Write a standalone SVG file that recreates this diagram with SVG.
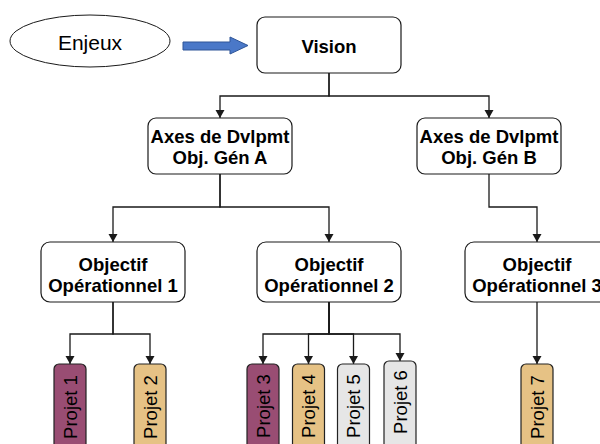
<svg xmlns="http://www.w3.org/2000/svg" width="600" height="444" viewBox="0 0 600 444">
<defs>
<style>
.box{fill:#ffffff;stroke:#1a1a1a;stroke-width:1.2}
.t{font-family:"Liberation Sans",Arial,sans-serif;font-size:18.5px;font-weight:bold;fill:#000;text-anchor:middle}
.p{font-family:"Liberation Sans",Arial,sans-serif;font-size:18.5px;fill:#000;text-anchor:middle}
.pb{stroke:#222;stroke-width:1.2}
.c{fill:none;stroke:#1a1a1a;stroke-width:1.3;marker-end:url(#ah)}
</style>
<marker id="ah" markerUnits="userSpaceOnUse" markerWidth="10" markerHeight="10" refX="8" refY="4.5" orient="auto">
<path d="M0,0 L8,4.5 L0,9 z" fill="#1a1a1a"/>
</marker>
</defs>
<rect width="600" height="444" fill="#ffffff"/>

<g id="connectors">
<path class="c" d="M329,73 V96 H220 V118"/>
<path class="c" d="M329,73 V96 H489 V118"/>
<path class="c" d="M220,174 V207 H113 V242"/>
<path class="c" d="M220,174 V207 H329 V242"/>
<path class="c" d="M489,174 V207 H537 V242"/>
<path class="c" d="M113,302 V334 H70 V364"/>
<path class="c" d="M113,302 V334 H150 V364"/>
<path class="c" d="M329,302 V334 H263 V364"/>
<path class="c" d="M329,302 V334 H308.5 V364"/>
<path class="c" d="M329,302 V334 H353.5 V364"/>
<path class="c" d="M329,302 V334 H400 V361"/>
<path class="c" d="M537,302 V364"/>
<path d="M183,42 H230 V37 L248,45.5 L230,54 V50 H183 Z" fill="#4a78c8" stroke="#2f5597" stroke-width="1"/>
</g>

<g id="enjeux">
<ellipse cx="90" cy="41" rx="80" ry="26" fill="#ffffff" stroke="#1a1a1a" stroke-width="1"/>
<text x="90" y="50" font-family="Liberation Sans, Arial, sans-serif" font-size="21" text-anchor="middle" fill="#000">Enjeux</text>
</g>

<g id="vision">
<rect class="box" x="257" y="17" width="144" height="56" rx="8"/>
<text class="t" x="329" y="53">Vision</text>
</g>

<g id="axesA">
<rect class="box" x="148" y="118" width="144" height="56" rx="8"/>
<text class="t" x="220" y="143">Axes de Dvlpmt</text>
<text class="t" x="220" y="164">Obj. Gén A</text>
</g>

<g id="axesB">
<rect class="box" x="417" y="118" width="144" height="56" rx="8"/>
<text class="t" x="489" y="143">Axes de Dvlpmt</text>
<text class="t" x="489" y="164">Obj. Gén B</text>
</g>

<g id="obj1">
<rect class="box" x="41" y="242" width="144" height="60" rx="9"/>
<text class="t" x="113" y="271">Objectif</text>
<text class="t" x="113" y="291.5">Opérationnel 1</text>
</g>

<g id="obj2">
<rect class="box" x="257" y="242" width="144" height="60" rx="9"/>
<text class="t" x="329" y="271">Objectif</text>
<text class="t" x="329" y="291.5">Opérationnel 2</text>
</g>

<g id="obj3">
<rect class="box" x="465" y="242" width="144" height="60" rx="9"/>
<text class="t" x="537" y="271">Objectif</text>
<text class="t" x="537" y="291.5">Opérationnel 3</text>
</g>

<g id="projet1">
<rect class="pb" x="54" y="364" width="32" height="95" rx="5" fill="#994d73"/>
<text class="p" transform="translate(70,407) rotate(-90)" x="0" y="6.5">Projet 1</text>
</g>
<g id="projet2">
<rect class="pb" x="134" y="364" width="32" height="95" rx="5" fill="#e6c285"/>
<text class="p" transform="translate(150,407) rotate(-90)" x="0" y="6.5">Projet 2</text>
</g>
<g id="projet3">
<rect class="pb" x="247" y="364" width="32" height="95" rx="5" fill="#994d73"/>
<text class="p" transform="translate(263,406) rotate(-90)" x="0" y="6.5">Projet 3</text>
</g>
<g id="projet4">
<rect class="pb" x="292.5" y="364" width="32" height="95" rx="5" fill="#e6c285"/>
<text class="p" transform="translate(308.5,406) rotate(-90)" x="0" y="6.5">Projet 4</text>
</g>
<g id="projet5">
<rect class="pb" x="337.5" y="364" width="32" height="95" rx="5" fill="#e6e6e6"/>
<text class="p" transform="translate(353.5,406) rotate(-90)" x="0" y="6.5">Projet 5</text>
</g>
<g id="projet6">
<rect class="pb" x="384" y="361" width="32" height="95" rx="5" fill="#e6e6e6"/>
<text class="p" transform="translate(400,402) rotate(-90)" x="0" y="6.5">Projet 6</text>
</g>
<g id="projet7">
<rect class="pb" x="521" y="364" width="32" height="95" rx="5" fill="#e6c285"/>
<text class="p" transform="translate(537,407) rotate(-90)" x="0" y="6.5">Projet 7</text>
</g>
</svg>
